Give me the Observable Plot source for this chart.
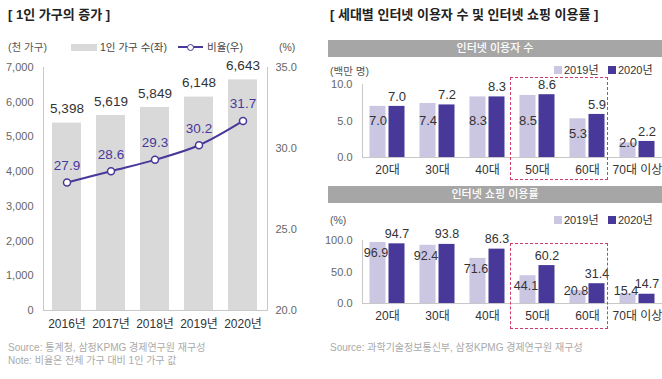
<!DOCTYPE html>
<html><head><meta charset="utf-8">
<script src="https://cdn.jsdelivr.net/npm/d3@7"></script>
<script src="https://cdn.jsdelivr.net/npm/@observablehq/plot@0.6"></script>
<style>
body{margin:0;background:#fff;font-family:"Liberation Sans","Noto Sans CJK KR",sans-serif;}
#root{position:relative;width:662px;height:379px;overflow:hidden;background:#fff;}
.abs{position:absolute;white-space:nowrap;}
.abs svg{display:block;}
</style></head><body><div id="root"></div>
<script>
// ---- data ----
const years = ["2016년","2017년","2018년","2019년","2020년"];
const households = [5398, 5619, 5849, 6148, 6643];
const ratio = [27.9, 28.6, 29.3, 30.2, 31.7];
const leftTicks = [0,1000,2000,3000,4000,5000,6000,7000];
const rightTicks = [20, 25, 30, 35];

const ageGroups = ["20대","30대","40대","50대","60대","70대 이상"];
const users2019 = [7.0, 7.4, 8.3, 8.5, 5.3, 2.0];
const users2020 = [7.0, 7.2, 8.3, 8.6, 5.9, 2.2];
const userTicks = [0, 5, 10];
const shop2019 = [96.9, 92.4, 71.6, 44.1, 20.8, 15.4];
const shop2020 = [94.7, 93.8, 86.3, 60.2, 31.4, 14.7];
const shopTicks = [0, 50, 100];

// ---- styles ----
const FONT = '"Liberation Sans","Noto Sans CJK KR",sans-serif';
const C19 = "#cbc6e2", C20 = "#47389a", PURPLE = "#47389a", BARGRAY = "#d9d9d9", AXIS = "#c8c8c8";
const root = document.getElementById("root");

function put(node, x, y){ const d=document.createElement("div"); d.className="abs"; d.style.left=x+"px"; d.style.top=y+"px"; d.appendChild(node); root.appendChild(d); return d; }
function label(text, x, yc, size, color, extra={}){
  const d=document.createElement("div"); d.className="abs"; d.textContent=text;
  d.style.left=x+"px"; d.style.top=(yc-9)+"px"; d.style.lineHeight="18px";
  d.style.fontSize=size+"px"; d.style.color=color; Object.assign(d.style, extra); root.appendChild(d); return d;
}
function box(x,y,w,h,style){ const d=document.createElement("div"); d.className="abs"; Object.assign(d.style,{left:x+"px",top:y+"px",width:w+"px",height:h+"px",boxSizing:"border-box"},style); root.appendChild(d); return d;}

// ---- Left chart ----
label("[ 1인 가구의 증가 ]", 8, 15, 13, "#222", {fontWeight:"700"});
label("(천 가구)", 8, 47, 10.5, "#555");
box(71,44,26,7,{background:BARGRAY});
label("1인 가구 수(좌)", 100, 47, 10.5, "#444");
box(178,46,25,2,{background:PURPLE});
box(187,43.5,7,7,{background:"#fff",border:"1.5px solid "+PURPLE,borderRadius:"50%"});
label("비율(우)", 207, 47, 10.5, "#444");
label("(%)", 279, 47, 10.5, "#555");

const toLeft = r => (r - 20) / 15 * 7000;
const hh = years.map((y,i)=>({year:y, value:households[i], ratio:ratio[i]}));
const left = Plot.plot({
  width:330, height:285, marginLeft:43, marginRight:63, marginTop:12, marginBottom:30,
  style:{fontFamily:FONT, fontSize:"11px", color:"#666", background:"transparent"},
  x:{domain:years, paddingInner:0.33, paddingOuter:0.17, label:null},
  y:{domain:[0,7000], label:null},
  marks:[
    Plot.barY(hh,{x:"year", y:"value", fill:BARGRAY}),
    Plot.frame({anchor:"left", stroke:AXIS}),
    Plot.frame({anchor:"right", stroke:AXIS}),
    Plot.frame({anchor:"bottom", stroke:AXIS}),
    Plot.axisY({ticks:leftTicks, tickSize:0, tickPadding:10, tickFormat:d3.format(","), label:null, fill:"#666"}),
    Plot.axisY({anchor:"right", ticks:rightTicks.map(toLeft), tickSize:0, tickPadding:8, label:null, fill:"#666",
      tickFormat:v => (v/7000*15+20).toFixed(1)}),
    Plot.axisX({tickSize:0, tickPadding:9, fontSize:12, fill:"#333", label:null}),
    Plot.text(hh,{x:"year", y:"value", text:d=>d3.format(",")(d.value), dy:-14, fontSize:13.5, fill:"#333"}),
    Plot.line(hh,{x:"year", y:d=>toLeft(d.ratio), stroke:PURPLE, strokeWidth:2, curve:"catmull-rom"}),
    Plot.dot(hh,{x:"year", y:d=>toLeft(d.ratio), r:3.5, fill:"#fff", stroke:PURPLE, strokeWidth:1.5}),
    Plot.text(hh,{x:"year", y:d=>toLeft(d.ratio), text:d=>d.ratio.toFixed(1), dy:-17, fontSize:13.5, fill:PURPLE})
  ]
});
put(left, 0, 55);
label("Source: 통계청, 삼정KPMG 경제연구원 재구성", 8, 348, 10, "#aaa");
label("Note: 비율은 전체 가구 대비 1인 가구 값", 8, 361, 10, "#aaa");

// ---- Right charts ----
label("[ 세대별 인터넷 이용자 수 및 인터넷 쇼핑 이용률 ]", 330, 15, 13, "#222", {fontWeight:"700"});

function header(text, y){
  const d = box(328, y, 334, 17, {background:"#a6a6a6"});
  d.textContent = text; Object.assign(d.style,{color:"#fff",fontSize:"11px",textAlign:"center",lineHeight:"17px",fontWeight:"500"});
}
function legend(y){
  box(554, y-4, 8, 8, {background:C19}); label("2019년", 564, y, 11, "#333");
  box(608, y-4, 8, 8, {background:C20}); label("2020년", 618, y, 11, "#333");
}
function groupChart(v19, v20, yMax, ticks, pos19, dx19, fs, height, mt, mb){
  const data = ageGroups.map((g,i)=>({g, a:v19[i], b:v20[i]}));
  return Plot.plot({
    width:340, height, marginLeft:40, marginRight:0, marginTop:mt, marginBottom:mb,
    style:{fontFamily:FONT, fontSize:"11px", color:"#666", background:"transparent", overflow:"visible"},
    x:{domain:ageGroups, padding:0, label:null},
    y:{domain:[0,yMax], label:null},
    marks:[
      Plot.barY(data,{x:"g", y:"a", fill:C19, insetLeft:7.5, insetRight:26.5}),
      Plot.barY(data,{x:"g", y:"b", fill:C20, insetLeft:26.5, insetRight:7.5}),
      Plot.ruleY([0],{stroke:AXIS}),
      Plot.frame({anchor:"left", stroke:AXIS}),
      Plot.axisY({ticks, tickSize:0, tickPadding:10, tickFormat:d=>d.toFixed(1), label:null, fill:"#666"}),
      Plot.axisX({tickSize:0, tickPadding:8, fontSize:12, fill:"#333", label:null}),
      Plot.text(data,{x:"g", y:"b", text:d=>d.b.toFixed(1), dx:9.5, dy:-10, fontSize:fs, fill:"#333"}),
      Plot.text(data,{x:"g", y:d=>pos19(d.a), text:d=>d.a.toFixed(1), dx:dx19, fontSize:fs, fill:"#333"})
    ]
  });
}
header("인터넷 이용자 수", 40);
label("(백만 명)", 330, 71, 10.5, "#555");
legend(70);
put(groupChart(users2019, users2020, 10, userTicks, v=>Math.max(2, Math.min(5, v-2)), -9.5, 13, 106, 9, 24), 322, 75);

header("인터넷 쇼핑 이용률", 186);
label("(%)", 330, 220, 10.5, "#555");
legend(220);
put(groupChart(shop2019, shop2020, 100, shopTicks, v=>Math.max(20, v-17), -11.5, 12.5, 105, 15, 27), 322, 225);
label("Source: 과학기술정보통신부, 삼정KPMG 경제연구원 재구성", 330, 348, 10, "#aaa");

// dashed highlight boxes
box(510, 77, 98, 103, {border:"1.5px dashed #d23c6c"});
box(510, 243, 98, 86, {border:"1.5px dashed #d23c6c"});
</script></body></html>
